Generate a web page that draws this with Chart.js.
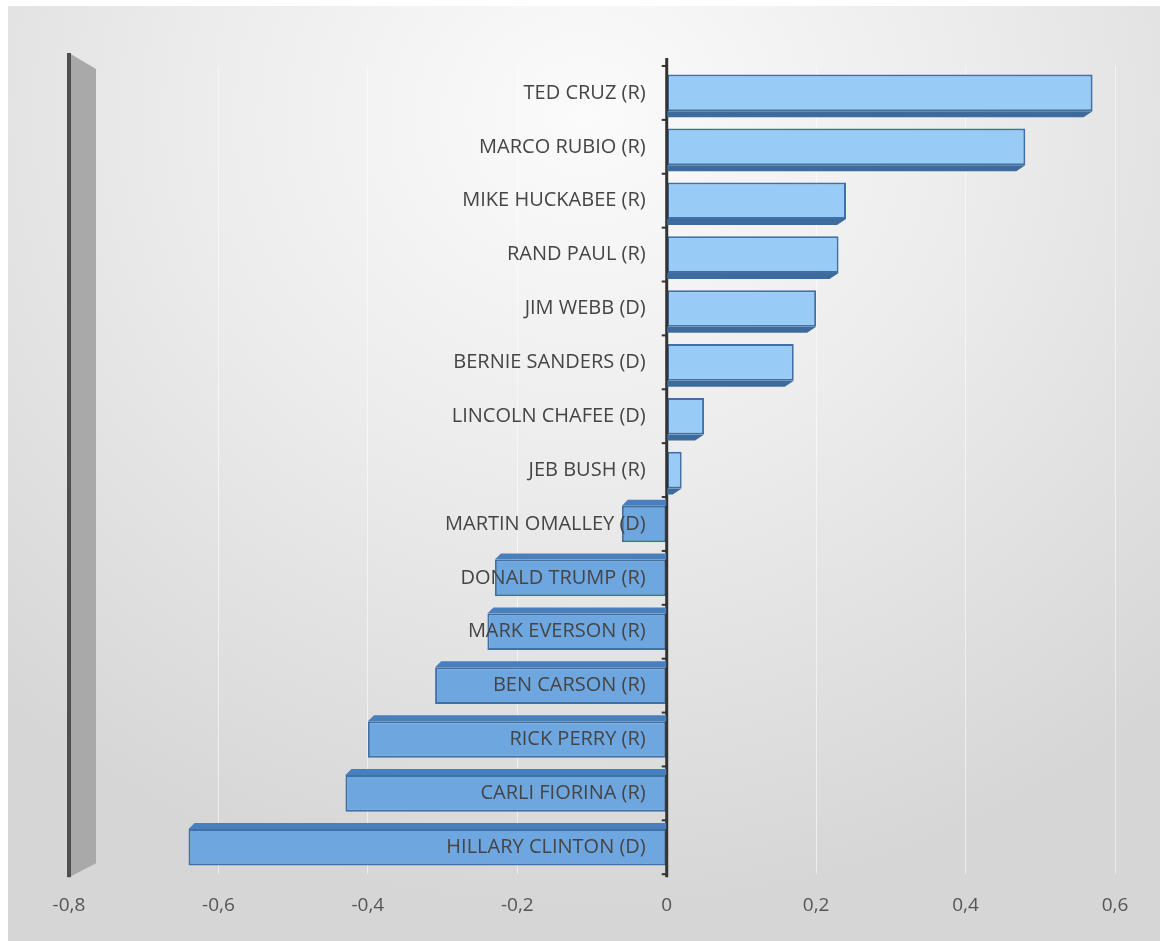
<!DOCTYPE html>
<html>
<head>
<meta charset="utf-8">
<script src="https://cdn.jsdelivr.net/npm/chart.js@4"></script>
<style>
  html, body { margin: 0; padding: 0; background: #fff; }
  #bg {
    position: absolute; left: 8px; top: 6px; width: 1152px; height: 935px;
    background: radial-gradient(ellipse 75% 85% at 50% 12%, #fbfbfb 0%, #ececec 45%, #d6d6d6 100%);
  }
  #wrap { position: absolute; left: 0; top: 0; width: 1160px; height: 941px; }
</style>
</head>
<body>
<div id="bg"></div>
<div id="wrap"><canvas id="chart" width="1160" height="941"></canvas></div>
<script>
const candidates = ['TED CRUZ (R)', 'MARCO RUBIO (R)', 'MIKE HUCKABEE (R)', 'RAND PAUL (R)', 'JIM WEBB (D)',
    'BERNIE SANDERS (D)', 'LINCOLN CHAFEE (D)', 'JEB BUSH (R)', 'MARTIN OMALLEY (D)', 'DONALD TRUMP (R)',
    'MARK EVERSON (R)', 'BEN CARSON (R)', 'RICK PERRY (R)', 'CARLI FIORINA (R)', 'HILLARY CLINTON (D)'];
const scores = [0.57, 0.48, 0.24, 0.23, 0.2, 0.17, 0.05, 0.02, -0.06, -0.23, -0.24, -0.31, -0.4, -0.43, -0.64];
const xTicks = [-0.8, -0.6, -0.4, -0.2, 0, 0.2, 0.4, 0.6];

const labelFont = '20px "Open Sans", sans-serif';

// dark side strips to fake the 3d look of the bars
const barDepth = {
    id: 'barDepth',
    afterDatasetsDraw(chart) {
        const ctx = chart.ctx;
        const meta = chart.getDatasetMeta(0);
        ctx.save();
        meta.data.forEach((bar, i) => {
            const top = bar.y - bar.height / 2;
            const bot = bar.y + bar.height / 2;
            ctx.beginPath();
            if (scores[i] >= 0) {
                ctx.fillStyle = '#3c6b9c';
                ctx.moveTo(bar.base, bot);
                ctx.lineTo(bar.x, bot);
                ctx.lineTo(bar.x - 9, bot + 6);
                ctx.lineTo(bar.base, bot + 6);
            } else {
                ctx.fillStyle = '#4a7fbd';
                ctx.moveTo(bar.base, top);
                ctx.lineTo(bar.x, top);
                ctx.lineTo(bar.x + 6, top - 6);
                ctx.lineTo(bar.base, top - 6);
            }
            ctx.closePath();
            ctx.fill();
        });
        ctx.restore();
    }
};

// left wall, zero axis and category labels next to it
const decor = {
    id: 'decor',
    beforeDatasetsDraw(chart) {
        const ctx = chart.ctx;
        const area = chart.chartArea;
        const x = chart.scales.x;
        const wx = x.getPixelForValue(-0.8);
        ctx.save();
        ctx.fillStyle = '#a9a9a9';
        ctx.beginPath();
        ctx.moveTo(wx, area.top - 13);
        ctx.lineTo(wx + 27, area.top + 3);
        ctx.lineTo(wx + 27, area.bottom - 11);
        ctx.lineTo(wx, area.bottom + 3);
        ctx.closePath();
        ctx.fill();
        ctx.fillStyle = '#4f4f4f';
        ctx.fillRect(wx - 2, area.top - 13, 4, area.bottom - area.top + 16);
        ctx.restore();
    },
    afterDatasetsDraw(chart) {
        const ctx = chart.ctx;
        const area = chart.chartArea;
        const x = chart.scales.x;
        const y = chart.scales.y;
        const zx = x.getPixelForValue(0);
        ctx.save();
        ctx.strokeStyle = '#333';
        ctx.lineWidth = 3;
        ctx.beginPath();
        ctx.moveTo(zx, area.top - 8);
        ctx.lineTo(zx, area.bottom + 3);
        ctx.stroke();
        const step = (area.bottom - area.top) / candidates.length;
        ctx.lineWidth = 2;
        for (let i = 0; i <= candidates.length; i++) {
            const ty = area.top + i * step;
            ctx.beginPath();
            ctx.moveTo(zx - 5, ty);
            ctx.lineTo(zx, ty);
            ctx.stroke();
        }
        ctx.fillStyle = '#454545';
        ctx.font = labelFont;
        ctx.textAlign = 'right';
        ctx.textBaseline = 'middle';
        candidates.forEach((name, i) => {
            ctx.fillText(name, zx - 21, y.getPixelForTick(i));
        });
        ctx.restore();
    }
};

new Chart(document.getElementById('chart'), {
    type: 'bar',
    data: {
        labels: candidates,
        datasets: [{
            data: scores,
            backgroundColor: scores.map(v => v >= 0 ? '#98cbf6' : '#6ea6e0'),
            borderColor: '#3f70a6',
            borderWidth: 2,
            borderSkipped: false,
            categoryPercentage: 1,
            barPercentage: 0.68
        }]
    },
    options: {
        indexAxis: 'y',
        responsive: false,
        animation: false,
        layout: { padding: { left: 69, right: 45, top: 66, bottom: 4 } },
        plugins: { legend: { display: false }, tooltip: { enabled: false } },
        scales: {
            x: {
                min: -0.8,
                max: 0.6,
                afterBuildTicks(scale) {
                    scale.ticks = xTicks.map(v => ({ value: v }));
                },
                grid: { color: 'rgba(255,255,255,0.55)', drawTicks: false },
                border: { display: false },
                ticks: {
                    padding: 20,
                    color: '#555',
                    font: { family: '"Open Sans", sans-serif', size: 19 },
                    callback: v => String(Math.round(v * 10) / 10).replace('.', ',')
                }
            },
            y: { display: false }
        }
    },
    plugins: [decor, barDepth]
});
</script>
</body>
</html>
